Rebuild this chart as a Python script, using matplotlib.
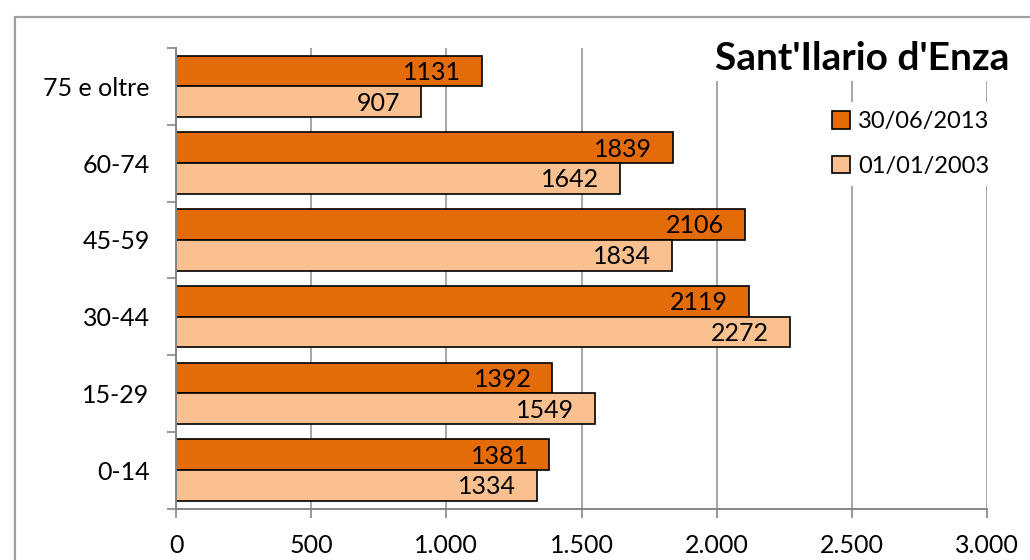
import numpy as np
import matplotlib
matplotlib.use('Agg')
import matplotlib.pyplot as plt
from matplotlib.patches import Rectangle
from matplotlib.ticker import FuncFormatter, FixedLocator

plt.rcParams['font.family'] = ['Lato', 'DejaVu Sans']

# age classes, bottom to top
classes = ['0-14', '15-29', '30-44', '45-59', '60-74', '75 e oltre']
pop_2013 = [1381, 1392, 2119, 2106, 1839, 1131]
pop_2003 = [1334, 1549, 2272, 1834, 1642, 907]
series_names = ['30/06/2013', '01/01/2003']
title = "Sant'Ilario d'Enza"

dark = '#E36C09'
light = '#FAC090'
grid_col = '#A6A6A6'
axis_col = '#868686'
fs = 18

fig = plt.figure(figsize=(10.3, 5.6), dpi=100)
# chart area frame (runs off the right and bottom edges)
fig.patches.append(Rectangle((15/1030, -0.1), 1.1, 1 - 17/560 + 0.1, transform=fig.transFigure,
                             fill=False, edgecolor='#A0A0A0', lw=1.6))
ax = fig.add_axes([176/1030, 1 - 508.5/560, (987 - 176)/1030, (508.5 - 48)/560])

y = np.arange(len(classes))
h = 0.4
b1 = ax.barh(y + h/2, pop_2013, height=h, color=dark, edgecolor='black', lw=1.2, zorder=3, label=series_names[0])
b2 = ax.barh(y - h/2, pop_2003, height=h, color=light, edgecolor='black', lw=1.2, zorder=3, label=series_names[1])

for bars, vals in ((b1, pop_2013), (b2, pop_2003)):
    for r, v in zip(bars, vals):
        ax.annotate(str(v), (v, r.get_y() + r.get_height()/2), xytext=(-15, -1), textcoords='offset points',
                    ha='right', va='center', fontsize=fs, color='black', zorder=4)

ax.set_xlim(0, 3000)
ax.set_ylim(-0.5, len(classes) - 0.5)
ax.set_xticks(np.arange(0, 3001, 500))
ax.xaxis.set_major_formatter(FuncFormatter(lambda v, p: f'{int(v):,}'.replace(',', '.')))
ax.set_yticks(y)
ax.set_yticklabels(classes)
ax.yaxis.set_minor_locator(FixedLocator(np.arange(-0.5, len(classes), 1)))
ax.tick_params(axis='y', which='major', length=0, pad=19, labelsize=fs)
ax.tick_params(axis='y', which='minor', length=6.5, width=1.2, color=axis_col)
ax.tick_params(axis='x', length=6.5, width=1.2, color=axis_col, pad=12, labelsize=fs)
ax.grid(axis='x', color=grid_col, lw=1.4, zorder=0)
ax.set_axisbelow(True)
for s in ('top', 'right'):
    ax.spines[s].set_visible(False)
for s in ('left', 'bottom'):
    ax.spines[s].set_color(axis_col)
    ax.spines[s].set_linewidth(1.4)
    ax.spines[s].set_zorder(5)

fig.text(862/1030, 1 - 58/560, title, ha='center', va='center', fontsize=28, fontweight='bold',
         bbox=dict(facecolor='white', edgecolor='none', pad=4), zorder=10)

leg = ax.legend(loc='upper left', bbox_to_anchor=(811/1030, 1 - 90/560), bbox_transform=fig.transFigure,
                fontsize=17, frameon=True, fancybox=False, edgecolor='none', facecolor='white', framealpha=1,
                handlelength=0.75, handleheight=0.75, handletextpad=0.35, labelspacing=1.0, borderpad=0.4)
leg.set_zorder(10)

fig.savefig('out.png', dpi=100)
